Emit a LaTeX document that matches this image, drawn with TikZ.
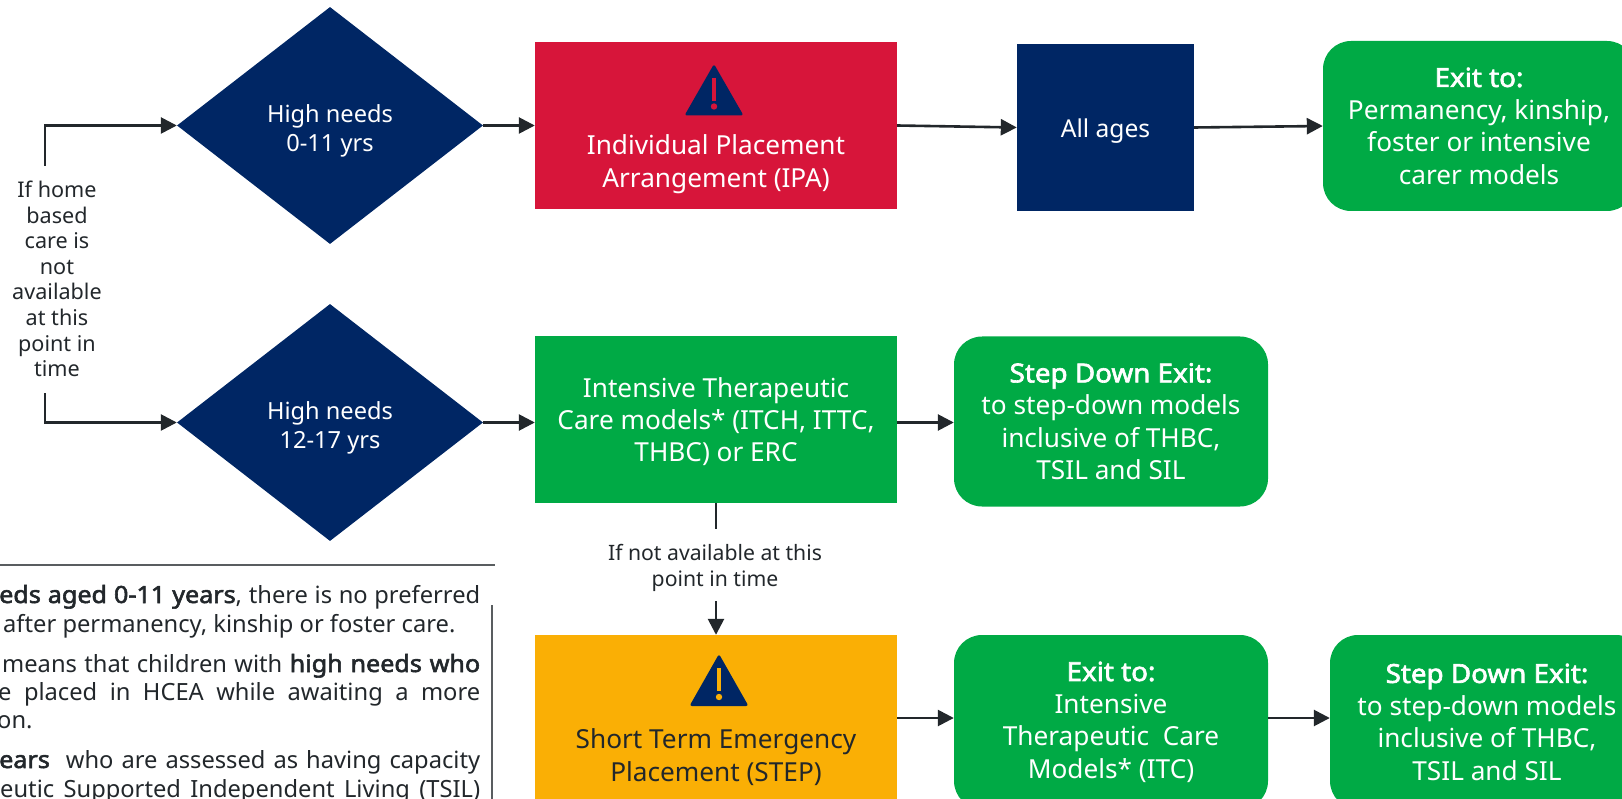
\documentclass[tikz,border=0pt]{standalone}
\usepackage{fontspec}
\setmainfont{Noto Sans}[BoldFont={Noto Sans},BoldFeatures={FakeBold=2.4,FakeStretch=1.06}]
\usetikzlibrary{arrows.meta,shapes.geometric}
\definecolor{navy}{HTML}{002664}
\definecolor{nswred}{HTML}{D7153A}
\definecolor{nswgreen}{HTML}{00AA45}
\definecolor{nsworange}{HTML}{FAAF05}
\definecolor{ink}{HTML}{22272B}
\tikzset{
  big/.style={font=\fontsize{26.2}{32.4}\selectfont,align=center,inner sep=0pt},
  mid/.style={font=\fontsize{23.6}{29}\selectfont,align=center,inner sep=0pt},
  small/.style={font=\fontsize{21.6}{25.6}\selectfont,align=center,inner sep=0pt,text=ink},
  para/.style={font=\fontsize{23.7}{28}\selectfont,inner sep=0pt,text=ink,anchor=base west},
  dia/.style={diamond,aspect=1.287,fill=navy,text=white,inner sep=0pt,minimum width=306pt,minimum height=237pt,mid},
  boxr/.style={rectangle,big,text=white,minimum width=362pt},
  exitbox/.style={rectangle,rounded corners=28pt,fill=nswgreen,text=white,big,minimum height=170pt},
  conn/.style={draw=ink,line width=2.6pt},
  arr/.style={conn,-{Triangle[length=16pt,width=16pt]}}
}
\begin{document}
\begin{tikzpicture}[x=1pt,y=-1pt]
\useasboundingbox (0,0) rectangle (1622,799);
% decision diamonds
\node[dia] (d1) at (330,125.5) {\rule{0pt}{28pt}High needs\\0-11 yrs};
\node[dia] (d2) at (330,422.5) {\rule{0pt}{28pt}High needs\\12-17 yrs};
% main boxes
\node[boxr,fill=nswred,minimum height=167pt] (ipa) at (716,125.5) {\rule{0pt}{65pt}\\Individual Placement\\Arrangement (IPA)};
\node[boxr,fill=nswgreen,minimum height=167pt] (itc) at (716,419.5) {\rule{0pt}{24pt}Intensive Therapeutic\\Care models* (ITCH, ITTC,\\THBC) or ERC};
\node[boxr,fill=nsworange,minimum height=170pt,text=ink] (step) at (716,720) {\rule{0pt}{62pt}\\Short Term Emergency\\Placement (STEP)};
\node[rectangle,fill=navy,text=white,mid,font=\fontsize{24.6}{29}\selectfont,minimum width=177pt,minimum height=167pt] (all) at (1105.5,127.5) {\rule{0pt}{26pt}All ages};
% exit boxes
\node[exitbox,minimum width=312pt] (exa) at (1479,126) {\textbf{Exit to:}\\Permanency, kinship,\\foster or intensive\\carer models};
\node[exitbox,minimum width=314pt] (sd) at (1111,421.5) {\textbf{Step Down Exit:}\\to step-down models\\inclusive of THBC,\\TSIL and SIL};
\node[exitbox,minimum width=314pt,minimum height=174pt] (exb) at (1111,722) {\textbf{Exit to:}\\Intensive\\Therapeutic\ \ Care\\Models* (ITC)};
\node[exitbox,minimum width=314pt,minimum height=174pt] (sdb) at (1487,722) {\textbf{Step Down Exit:}\\to step-down models\\inclusive of THBC,\\TSIL and SIL};
% warning icons
\fill[navy,rounded corners=2.5pt] (714,64) -- (743.5,115.5) -- (684.5,115.5) -- cycle;
\draw[nswred,line width=4.2pt] (714,78) -- (714,101);
\fill[nswred] (714,106.5) circle (3.2pt);
\fill[navy,rounded corners=2.5pt] (719,654) -- (748.5,706) -- (689.5,706) -- cycle;
\draw[nsworange,line width=4.2pt] (719,668) -- (719,691);
\fill[nsworange] (719,697) circle (3.2pt);
% labels
\node[small] (lab) at (57,279) {If home\\based\\care is\\not\\available\\at this\\point in\\time};
\node[small,font=\fontsize{21.2}{26}\selectfont] (lna) at (715,567.5) {If not available at this\\point in time};
% connectors
\coordinate (c1) at (45,166);
\coordinate (c2) at (45,393);
\coordinate (s1) at (716,529);
\coordinate (s2) at (716,601);
\coordinate (m) at (0,718);
\draw[arr] (c1) |- (d1.west);
\draw[arr] (c2) |- (d2.west);
\draw[arr] (d1.east) -- (ipa.west);
\draw[arr] (ipa.east) -- (all.west);
\draw[arr] (all.east) -- (exa.west);
\draw[arr] (d2.east) -- (d2.east -| itc.west);
\draw[arr] (itc.east |- d2.east) -- (sd.west |- d2.east);
\draw[conn] (itc.south) -- (s1);
\draw[arr] (s2) -- (step.north);
\draw[arr] (step.east |- m) -- (exb.west |- m);
\draw[arr] (exb.east |- m) -- (sdb.west |- m);
% side note
\draw[draw=ink!75,line width=1.5pt] (0,565) -- (495,565);
\draw[draw=ink!75,line width=1.2pt] (492,605) -- (492,799);
\node[para] (p1) at (-1,603) {\makebox[481pt][s]{\textbf{eds aged 0-11 years}, there is no preferred}};
\node[para] (p2) at (3,632) {after permanency, kinship or foster care.};
\node[para] (p3) at (2,672) {\makebox[478pt][s]{means that children with \textbf{high needs who}}};
\node[para] (p4) at (-2,700) {\makebox[482pt][s]{e placed in HCEA while awaiting a more}};
\node[para] (p5) at (-3,728) {on.};
\node[para] (p6) at (-1,768) {\makebox[481pt][s]{\textbf{ears}\ \ who are assessed as having capacity}};
\node[para] (p7) at (0,797) {\makebox[480pt][s]{eutic Supported Independent Living (TSIL)}};
\end{tikzpicture}
\end{document}
